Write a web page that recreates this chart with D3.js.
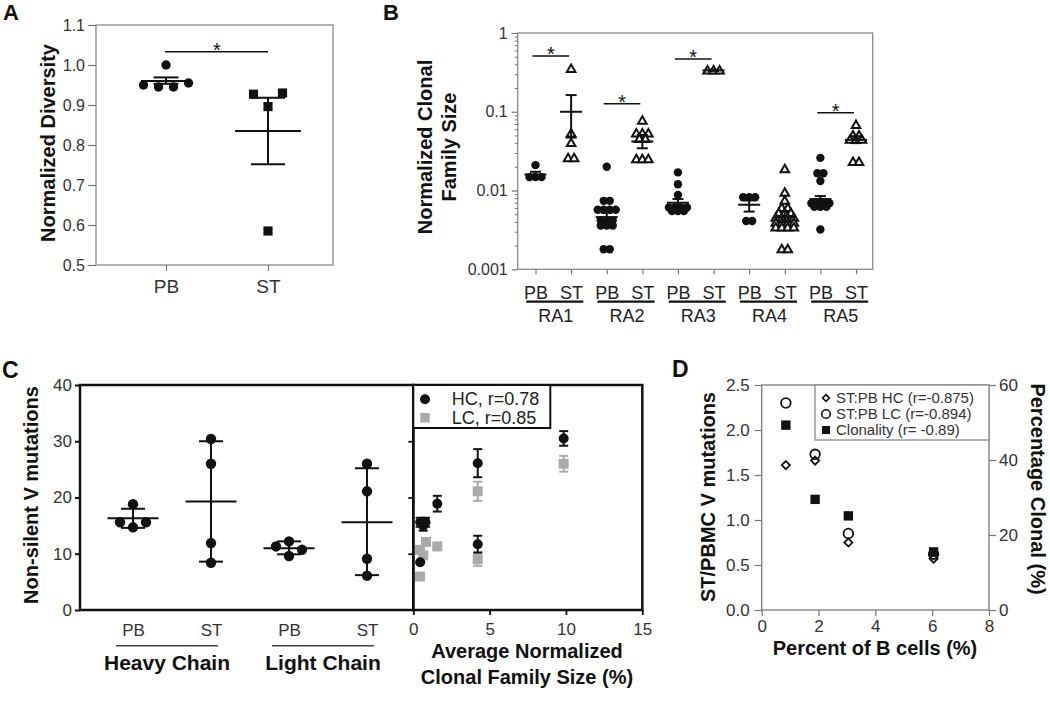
<!DOCTYPE html>
<html><head><meta charset="utf-8">
<script src="https://cdn.jsdelivr.net/npm/d3@7"></script>
<style>body{margin:0;background:#fff}svg{font-family:"Liberation Sans",Arial,sans-serif}</style>
</head><body>
<svg id="c" width="1050" height="702"></svg>
<script>
// ================= DATA =================
// Panel A – Normalized Diversity
const aGroups = ["PB", "ST"];
const aTicks = [0.5, 0.6, 0.7, 0.8, 0.9, 1.0, 1.1];
const aPB = [0.950, 0.945, 1.000, 0.945, 0.955];
const aST = [0.927, 0.930, 0.896, 0.585];
const aMean = [0.960, 0.835];
const aLo = [0.953, 0.752];
const aHi = [0.969, 0.918];
const aSig = 1.033;

// Panel B – Normalized Clonal Family Size (log)
const bPatients = ["RA1", "RA2", "RA3", "RA4", "RA5"];
const bTissues = ["PB", "ST"];
const bTicks = [1, 0.1, 0.01, 0.001];
const bRA1PB = [0.0148, 0.0148, 0.0148, 0.021];
const bRA1ST = [0.35, 0.053, 0.040, 0.0257, 0.0257];
const bRA2PB = [0.020, 0.0074, 0.0074, 0.0057, 0.0057, 0.0057, 0.0057, 0.0042, 0.0042, 0.0042, 0.0036, 0.0036, 0.0036, 0.0018, 0.0018];
const bRA2ST = [0.077, 0.053, 0.053, 0.053, 0.045, 0.045, 0.025, 0.025, 0.025];
const bRA3PB = [0.017, 0.012, 0.0088, 0.0061, 0.0061, 0.0061, 0.0061, 0.0055, 0.0055, 0.0055];
const bRA3ST = [0.335, 0.335, 0.335];
const bRA4PB = [0.0082, 0.0082, 0.0082, 0.0041, 0.0041];
const bRA4ST = [0.0186, 0.0094, 0.0074, 0.0060, 0.0060, 0.0052, 0.0052, 0.0052, 0.0045, 0.0045, 0.0045, 0.0045, 0.0039, 0.0039, 0.0039, 0.0039, 0.0034, 0.0034, 0.0034, 0.0034, 0.0018, 0.0018];
const bRA5PB = [0.026, 0.0166, 0.0166, 0.0132, 0.0069, 0.0069, 0.0069, 0.0069, 0.0062, 0.0062, 0.0062, 0.0032];
const bRA5ST = [0.068, 0.050, 0.050, 0.044, 0.044, 0.044, 0.023, 0.023];
const bMean = [0.016, 0.100, 0.0046, 0.042, 0.0070, 0.335, 0.0066, 0.0046, 0.0078, 0.044];
const bLo   = [0.0148, 0.047, 0.0039, 0.0344, 0.0062, 0.330, 0.0054, 0.0040, 0.0070, 0.040];
const bHi   = [0.0173, 0.163, 0.0052, 0.0508, 0.0078, 0.340, 0.0075, 0.0054, 0.0085, 0.049];
const bSigPatients = ["RA1", "RA2", "RA3", "RA5"];
const bSigLevel = [0.51, 0.126, 0.468, 0.0975];

// Panel C – Non-silent V mutations
const cKeys = ["HC PB", "HC ST", "LC PB", "LC ST"];
const cTickLabels = ["PB", "ST", "PB", "ST"];
const cChains = ["Heavy Chain", "Light Chain"];
const cYTicks = [0, 10, 20, 30, 40];
const cHCPB = [15.6, 18.8, 14.7, 15.6];
const cHCST = [30.4, 26.0, 11.9, 8.4];
const cLCPB = [11.3, 12.2, 9.6, 10.7];
const cLCST = [26.0, 21.1, 9.1, 6.1];
const cMean = [16.3, 19.3, 11.0, 15.6];
const cLo = [14.6, 8.6, 9.9, 6.2];
const cHi = [18.0, 30.0, 12.2, 25.2];
const cXTicks = [0, 5, 10, 15];
const hcX = [9.85, 4.22, 1.57, 0.45, 0.65, 0.80, 0.45, 4.22];
const hcY = [30.5, 26.1, 18.9, 15.6, 15.0, 15.6, 8.5, 11.7];
const hcErr = [1.3, 2.5, 1.4, 0.8, 0.9, 0.8, 0, 1.5];
const lcX = [9.85, 4.22, 4.22, 1.57, 0.83, 0.44, 0.65, 0.44];
const lcY = [26.0, 21.1, 9.05, 11.3, 12.1, 10.7, 9.7, 5.95];
const lcErr = [1.4, 1.7, 1.2, 0, 0, 0, 0, 0];
const cLegend = ["HC, r=0.78", "LC, r=0.85"];

// Panel D
const dX = [0.85, 1.88, 3.05, 6.05];
const dHC = [1.61, 1.66, 0.75, 0.57];
const dLC = [2.30, 1.73, 0.85, 0.62];
const dClon = [49.3, 29.5, 25.1, 15.5];
const dXTicks = [0, 2, 4, 6, 8];
const dYTicks = [0, 0.5, 1.0, 1.5, 2.0, 2.5];
const dY2Ticks = [0, 20, 40, 60];
const dLegend = ["ST:PB HC (r=-0.875)", "ST:PB LC (r=-0.894)", "Clonality (r= -0.89)"];

// ================= HELPERS =================
const FONT = '"Liberation Sans", Arial, sans-serif';
const svg = d3.select("#c");
function txt(g, x, y, s, o = {}) {
  const t = g.append("text").attr("x", x).attr("y", y).text(s)
    .attr("font-size", o.size || 16).attr("font-weight", o.bold ? "bold" : "normal")
    .attr("text-anchor", o.anchor || "middle").attr("fill", o.fill || "#111")
    .attr("font-family", FONT);
  if (o.rotate) t.attr("transform", `rotate(${o.rotate},${x},${y})`);
  return t;
}
function styleAxis(g, size, color, sw) {
  g.attr("font-family", FONT).attr("font-size", size);
  g.selectAll("text").attr("fill", "#333");
  g.selectAll("line").attr("stroke", color).attr("stroke-width", sw || 1.2);
  g.select(".domain").remove();
}
function swarm(vals, ypx, thresh, spacing) {
  const order = vals.map((v, i) => i).sort((a, b) => ypx(vals[a]) - ypx(vals[b]));
  const rows = [];
  order.forEach(i => {
    const y = ypx(vals[i]);
    const r = rows.find(r => Math.abs(r.y - y) <= thresh);
    if (r) r.m.push(i); else rows.push({ y, m: [i] });
  });
  const off = new Array(vals.length).fill(0);
  rows.forEach(r => { r.m.sort((a, b) => a - b); r.m.forEach((i, j) => off[i] = (j - (r.m.length - 1) / 2) * spacing); });
  return off;
}
function line(g, x1, y1, x2, y2, c, w) {
  g.append("line").attr("x1", x1).attr("y1", y1).attr("x2", x2).attr("y2", y2)
    .attr("stroke", c || "#111").attr("stroke-width", w || 1.8);
}
function meanErr(g, x, yM, yLo, yHi, mh, ch, w) {
  line(g, x, yLo, x, yHi, "#111", w);
  line(g, x - ch, yLo, x + ch, yLo, "#111", w);
  line(g, x - ch, yHi, x + ch, yHi, "#111", w);
  line(g, x - mh, yM, x + mh, yM, "#111", w);
}
const sym = (type, size) => d3.symbol().type(type).size(size)();

// ================= PANEL A =================
{
  const g = svg.append("g");
  const L = 96, R = 333, T = 25, B = 265;
  const y = d3.scaleLinear().domain([0.5, 1.1]).range([B, T]);
  const x = d3.scalePoint().domain(aGroups).range([166, 268]);
  g.append("rect").attr("x", L).attr("y", T).attr("width", R - L).attr("height", B - T)
    .attr("fill", "none").attr("stroke", "#8a8a8a").attr("stroke-width", 1.3);
  g.append("g").attr("transform", `translate(${L},0)`)
    .call(d3.axisLeft(y).tickValues(aTicks).tickFormat(d3.format(".1f")).tickSize(8).tickPadding(3))
    .call(styleAxis, 16, "#777");
  g.append("g").attr("transform", `translate(0,${B})`)
    .call(d3.axisBottom(x).tickSize(6).tickPadding(9)).call(styleAxis, 19, "#777");
  txt(g, 55, 143, "Normalized Diversity", { size: 20, bold: true, rotate: -90 });
  txt(g, 3, 20, "A", { size: 22, bold: true, anchor: "start" });
  const spacing = [15, 29], meanH = [25, 33], capH = [12.5, 17];
  [aPB, aST].forEach((vals, gi) => {
    const cx = x(aGroups[gi]);
    const off = swarm(vals, y, 4.5, spacing[gi]);
    vals.forEach((v, i) => {
      if (gi === 0) g.append("circle").attr("cx", cx + off[i]).attr("cy", y(v)).attr("r", 4.7).attr("fill", "#111");
      else g.append("path").attr("d", sym(d3.symbolSquare, 84)).attr("transform", `translate(${cx + off[i]},${y(v)})`).attr("fill", "#111");
    });
    meanErr(g, cx, y(aMean[gi]), y(aLo[gi]), y(aHi[gi]), meanH[gi], capH[gi], 2);
  });
  line(g, x("PB") - 1, y(aSig), x("ST"), y(aSig), "#111", 1.5);
  txt(g, (x("PB") + x("ST")) / 2, y(aSig) + 5, "*", { size: 20 });
}

// ================= PANEL B =================
{
  const g = svg.append("g");
  const L = 517.7, R = 872.7, T = 33, B = 269.3;
  const cols = bPatients.flatMap(p => bTissues.map(t => p + " " + t));
  const x = d3.scalePoint().domain(cols).range([535.5, 856]);
  const y = d3.scaleLog().domain([0.001, 1]).range([B, T]);
  g.append("rect").attr("x", L).attr("y", T).attr("width", R - L).attr("height", B - T)
    .attr("fill", "none").attr("stroke", "#8a8a8a").attr("stroke-width", 1.3);
  const minor = [];
  [0.001, 0.01, 0.1].forEach(d => { for (let k = 2; k <= 9; k++) minor.push(d * k); });
  g.append("g").attr("transform", `translate(${L},0)`)
    .call(d3.axisLeft(y).tickValues(minor).tickFormat("").tickSize(3)).call(styleAxis, 16, "#777", 1);
  g.append("g").attr("transform", `translate(${L},0)`)
    .call(d3.axisLeft(y).tickValues(bTicks).tickFormat(d3.format("~g")).tickSize(6).tickPadding(4))
    .call(styleAxis, 16, "#777");
  const xa = g.append("g").attr("transform", `translate(0,${B})`)
    .call(d3.axisBottom(x).tickSize(5).tickFormat(d => d.split(" ")[1]).tickPadding(12));
  styleAxis(xa, 18, "#777");
  xa.selectAll("text").attr("fill", "#222");
  bPatients.forEach(p => {
    const mid = (x(p + " PB") + x(p + " ST")) / 2 + 1.5;
    line(g, mid - 28.5, 301.7, mid + 28.5, 301.7, "#111", 2.2);
    txt(g, mid + 1, 322, p, { size: 18, fill: "#222" });
  });
  txt(g, 431.5, 147, "Normalized Clonal", { size: 20, bold: true, rotate: -90 });
  txt(g, 456, 147, "Family Size", { size: 20, bold: true, rotate: -90 });
  txt(g, 383, 20, "B", { size: 22, bold: true, anchor: "start" });
  const sets = [bRA1PB, bRA1ST, bRA2PB, bRA2ST, bRA3PB, bRA3ST, bRA4PB, bRA4ST, bRA5PB, bRA5ST];
  sets.forEach((vals, ci) => {
    const cx = x(cols[ci]);
    const off = swarm(vals, y, 2.5, 6);
    vals.forEach((v, i) => {
      if (ci % 2 === 0) g.append("circle").attr("cx", cx + off[i]).attr("cy", y(v)).attr("r", 4.2).attr("fill", "#111");
      else g.append("path").attr("d", sym(d3.symbolTriangle, 32))
        .attr("transform", `translate(${cx + off[i]},${y(v) + 0.5})`)
        .attr("fill", "#fff").attr("stroke", "#111").attr("stroke-width", 2);
    });
    meanErr(g, cx, y(bMean[ci]), y(bLo[ci]), y(bHi[ci]), 11, 5.5, 2);
  });
  bSigPatients.forEach((p, i) => {
    const x1 = x(p + " PB") - 3, x2 = x(p + " ST") - 2, yy = y(bSigLevel[i]);
    line(g, x1, yy, x2, yy, "#111", 1.5);
    txt(g, (x1 + x2) / 2, yy + 5, "*", { size: 20 });
  });
}

// ================= PANEL C =================
{
  const g = svg.append("g");
  const L = 80, M = 413.3, R = 642.3, T = 385, B = 610;
  const y = d3.scaleLinear().domain([0, 40]).range([B, T]);
  const x = d3.scalePoint().domain(cKeys).range([133, 367]);
  const x2 = d3.scaleLinear().domain([0, 15]).range([M, R]);
  g.append("g").attr("transform", `translate(${L},0)`)
    .call(d3.axisLeft(y).tickValues(cYTicks).tickSize(5).tickPadding(3)).call(styleAxis, 17, "#111", 2);
  g.append("g").attr("transform", `translate(${M},0)`)
    .call(d3.axisLeft(y).tickValues([10, 20, 30]).tickFormat("").tickSize(5)).call(styleAxis, 17, "#111", 1.8);
  const xa = g.append("g").attr("transform", `translate(0,${B})`)
    .call(d3.axisBottom(x).tickSize(0).tickPadding(14).tickFormat((d, i) => cTickLabels[i]));
  styleAxis(xa, 17, "#111");
  g.append("g").attr("transform", `translate(0,${B})`)
    .call(d3.axisBottom(x2).tickValues(cXTicks).tickSize(5).tickPadding(8)).call(styleAxis, 17, "#111", 1.8);
  g.append("rect").attr("x", L).attr("y", T).attr("width", M - L).attr("height", B - T)
    .attr("fill", "none").attr("stroke", "#111").attr("stroke-width", 2.5);
  g.append("rect").attr("x", M).attr("y", T).attr("width", R - M).attr("height", B - T)
    .attr("fill", "none").attr("stroke", "#111").attr("stroke-width", 2.5);
  cChains.forEach((c, i) => {
    const mid = (x(cKeys[2 * i]) + x(cKeys[2 * i + 1])) / 2 - 5;
    line(g, mid - 51, 645.7, mid + 51, 645.7, "#444", 1.5);
    txt(g, mid, 670, c, { size: 21, bold: true });
  });
  txt(g, 38, 495, "Non-silent V mutations", { size: 20, bold: true, rotate: -90 });
  txt(g, 527, 658, "Average Normalized", { size: 20, bold: true });
  txt(g, 527, 684, "Clonal Family Size (%)", { size: 20, bold: true });
  txt(g, 2, 378, "C", { size: 23, bold: true, anchor: "start" });
  [cHCPB, cHCST, cLCPB, cLCST].forEach((vals, ci) => {
    const cx = x(cKeys[ci]);
    const off = swarm(vals, y, 4, 26);
    vals.forEach((v, i) => g.append("circle").attr("cx", cx + off[i]).attr("cy", y(v)).attr("r", 5.2).attr("fill", "#111"));
    meanErr(g, cx, y(cMean[ci]), y(cLo[ci]), y(cHi[ci]), 25.5, 12, 2);
  });
  lcX.forEach((v, i) => {
    if (lcErr[i] > 0) {
      line(g, x2(v), y(lcY[i] - lcErr[i]), x2(v), y(lcY[i] + lcErr[i]), "#aaa", 2);
      line(g, x2(v) - 4.5, y(lcY[i] - lcErr[i]), x2(v) + 4.5, y(lcY[i] - lcErr[i]), "#aaa", 2);
      line(g, x2(v) - 4.5, y(lcY[i] + lcErr[i]), x2(v) + 4.5, y(lcY[i] + lcErr[i]), "#aaa", 2);
    }
    g.append("path").attr("d", sym(d3.symbolSquare, 100)).attr("transform", `translate(${x2(v)},${y(lcY[i])})`).attr("fill", "#aaa");
  });
  hcX.forEach((v, i) => {
    if (hcErr[i] > 0) {
      line(g, x2(v), y(hcY[i] - hcErr[i]), x2(v), y(hcY[i] + hcErr[i]), "#111", 2);
      line(g, x2(v) - 4.5, y(hcY[i] - hcErr[i]), x2(v) + 4.5, y(hcY[i] - hcErr[i]), "#111", 2);
      line(g, x2(v) - 4.5, y(hcY[i] + hcErr[i]), x2(v) + 4.5, y(hcY[i] + hcErr[i]), "#111", 2);
    }
    g.append("circle").attr("cx", x2(v)).attr("cy", y(hcY[i])).attr("r", 5).attr("fill", "#111");
  });
  g.append("rect").attr("x", M).attr("y", T).attr("width", 137).attr("height", 43)
    .attr("fill", "#fff").attr("stroke", "#111").attr("stroke-width", 2);
  g.append("circle").attr("cx", 425).attr("cy", 399.3).attr("r", 5).attr("fill", "#111");
  g.append("path").attr("d", sym(d3.symbolSquare, 90)).attr("transform", "translate(425,417.7)").attr("fill", "#aaa");
  txt(g, 451.7, 405, cLegend[0], { size: 18, anchor: "start", fill: "#222" });
  txt(g, 451.7, 423.5, cLegend[1], { size: 18, anchor: "start", fill: "#222" });
}

// ================= PANEL D =================
{
  const g = svg.append("g");
  const L = 761.7, R = 989, T = 385, B = 610;
  const x = d3.scaleLinear().domain([0, 8]).range([L, R]);
  const y = d3.scaleLinear().domain([0, 2.5]).range([B, T]);
  const y2 = d3.scaleLinear().domain([0, 60]).range([B, T]);
  g.append("rect").attr("x", L).attr("y", T).attr("width", R - L).attr("height", B - T)
    .attr("fill", "none").attr("stroke", "#7a7a7a").attr("stroke-width", 1.3);
  g.append("g").attr("transform", `translate(${L},0)`)
    .call(d3.axisLeft(y).tickValues(dYTicks).tickFormat(d3.format(".1f")).tickSize(7).tickPadding(5)).call(styleAxis, 17, "#777");
  g.append("g").attr("transform", `translate(${R},0)`)
    .call(d3.axisRight(y2).tickValues(dY2Ticks).tickSize(7).tickPadding(3)).call(styleAxis, 17, "#777");
  g.append("g").attr("transform", `translate(0,${B})`)
    .call(d3.axisBottom(x).tickValues(dXTicks).tickSize(6).tickPadding(4)).call(styleAxis, 17, "#777");
  txt(g, 715, 497, "ST/PBMC V mutations", { size: 20, bold: true, rotate: -90 });
  txt(g, 1031, 489, "Percentage Clonal (%)", { size: 20, bold: true, rotate: 90 });
  txt(g, 875, 655, "Percent of B cells (%)", { size: 20, bold: true });
  txt(g, 672, 377, "D", { size: 23, bold: true, anchor: "start" });
  dX.forEach((v, i) => {
    g.append("path").attr("d", sym(d3.symbolDiamond2, 42)).attr("transform", `translate(${x(v)},${y(dHC[i])})`)
      .attr("fill", "#fff").attr("stroke", "#111").attr("stroke-width", 1.8);
    g.append("circle").attr("cx", x(v)).attr("cy", y(dLC[i])).attr("r", 4.8)
      .attr("fill", "none").attr("stroke", "#111").attr("stroke-width", 1.8);
    g.append("path").attr("d", sym(d3.symbolSquare, 88)).attr("transform", `translate(${x(v)},${y2(dClon[i])})`).attr("fill", "#111");
  });
  g.append("rect").attr("x", 815).attr("y", T).attr("width", R - 815).attr("height", 55)
    .attr("fill", "#fff").attr("stroke", "#8a8a8a").attr("stroke-width", 1.3);
  g.append("path").attr("d", sym(d3.symbolDiamond2, 30)).attr("transform", "translate(826,398)")
    .attr("fill", "#fff").attr("stroke", "#111").attr("stroke-width", 1.6);
  g.append("circle").attr("cx", 826).attr("cy", 414).attr("r", 4.3).attr("fill", "none").attr("stroke", "#111").attr("stroke-width", 1.6);
  g.append("path").attr("d", sym(d3.symbolSquare, 64)).attr("transform", "translate(826,430)").attr("fill", "#111");
  dLegend.forEach((s, i) => txt(g, 836, 403 + i * 16, s, { size: 15, anchor: "start", fill: "#333" }));
}
</script>
</body></html>
